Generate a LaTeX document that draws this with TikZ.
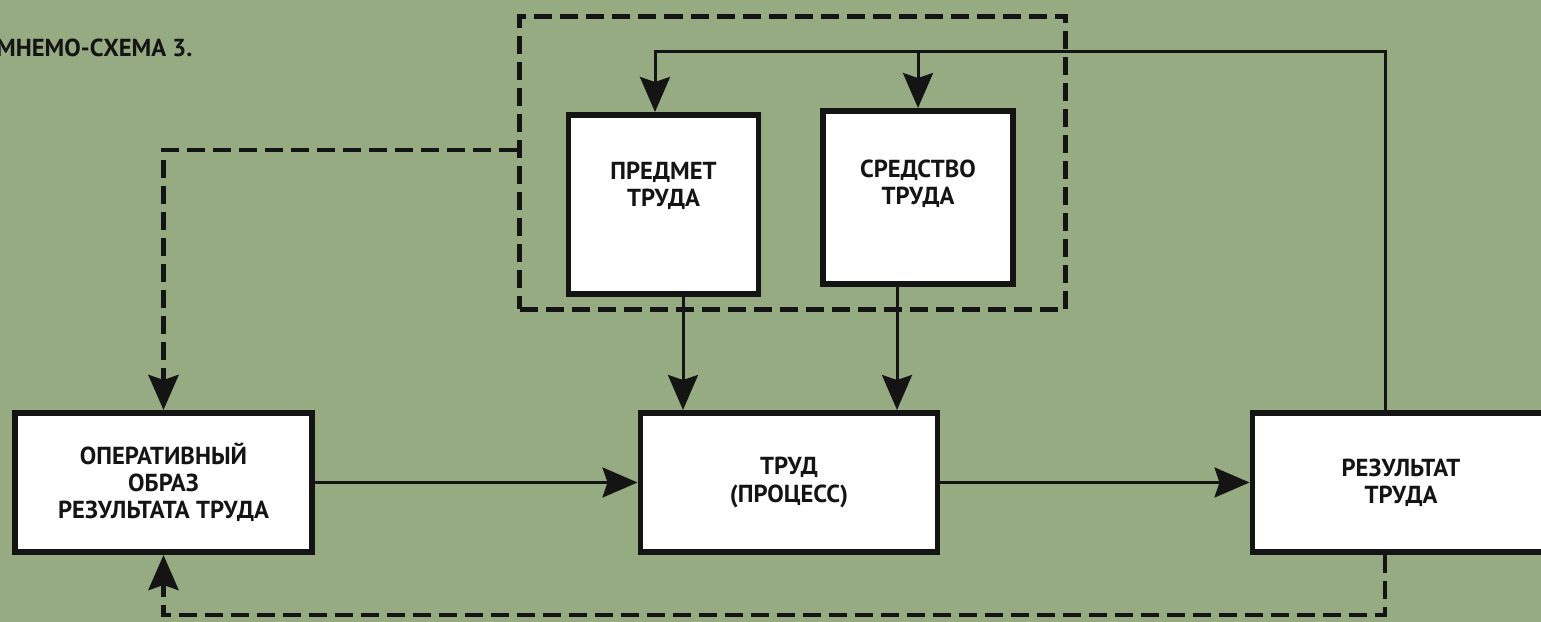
\documentclass[tikz,border=0pt]{standalone}
\usepackage{fontspec}
\setmainfont{PT Sans}
\usepackage{tikz}
\usetikzlibrary{arrows.meta,calc,positioning}
\definecolor{bgGreen}{RGB}{151,171,130}
\definecolor{inkDark}{RGB}{20,20,20}
\tikzstyle{block}=[rectangle,draw=inkDark,fill=white,line width=3.4pt,align=center,
  font=\bfseries\fontsize{14}{15.5}\selectfont,text=inkDark,inner sep=0pt]
\tikzstyle{big block}=[block, minimum width=5.94cm, minimum height=2.78cm]
\tikzstyle{small block}=[block, minimum width=3.8cm, minimum height=3.5cm]
\tikzstyle{flow}=[draw=inkDark,line width=1.7pt,-{Stealth[length=0.7cm,width=0.6cm,inset=0.1cm]}]
\tikzstyle{feedback}=[flow,line width=2.8pt,dash pattern=on 0.36cm off 0.16cm]

\begin{document}
\begin{tikzpicture}
  \useasboundingbox[fill=bgGreen] (0,0) rectangle (30.82,12.44);

  \node[anchor=west,font=\bfseries\fontsize{14}{15.5}\selectfont,text=inkDark] (title)
    at (-0.2,11.48) {МНЕМО-СХЕМА 3.};

  % Main row
  \node[big block] (oper) at (3.27,2.79) {ОПЕРАТИВНЫЙ\\ОБРАЗ\\РЕЗУЛЬТАТА ТРУДА};
  \node[big block] (trud) at (15.78,2.79) {ТРУД\\(ПРОЦЕСС)};
  \node[big block] (rez) at (28.02,2.79) {РЕЗУЛЬТАТ\\ТРУДА};

  \draw[flow] (oper) -- (trud);
  \draw[flow] (trud) -- (rez);

  % Object and means of labour

  \node[small block, minimum height=3.58cm, text depth=0.8cm] (predmet) at (13.27,8.35) {ПРЕДМЕТ\\ТРУДА};
  \node[small block, minimum height=3.46cm, text depth=0.62cm] (sredstvo) at (18.36,8.49) {СРЕДСТВО\\ТРУДА};

  \node[draw=inkDark,line width=2.8pt,dash pattern=on 0.36cm off 0.16cm,
    minimum width=10.92cm,minimum height=5.86cm] (group) at (15.85,9.18) {};

  \draw[flow] ([xshift=0.39cm]predmet.south) -- ([xshift=0.39cm]predmet.south |- trud.north);
  \draw[flow] ([xshift=-0.42cm]sredstvo.south) -- ([xshift=-0.42cm]sredstvo.south |- trud.north);

  % Feedback from the result

  \coordinate (feedTop) at (27.7,11.4);
  \coordinate (feedBottom) at (27.7,0.14);

  \draw[flow] ([xshift=-0.32cm]rez.north) -- (feedTop) -| ([xshift=-0.17cm]predmet.north);
  \draw[flow] (feedTop -| sredstvo.north) -- (sredstvo.north);

  \draw[feedback] ([yshift=0.26cm]group.west) -| (oper.north);
  \draw[feedback] ([xshift=-0.32cm]rez.south) -- (feedBottom) -| (oper.south);
\end{tikzpicture}
\end{document}
